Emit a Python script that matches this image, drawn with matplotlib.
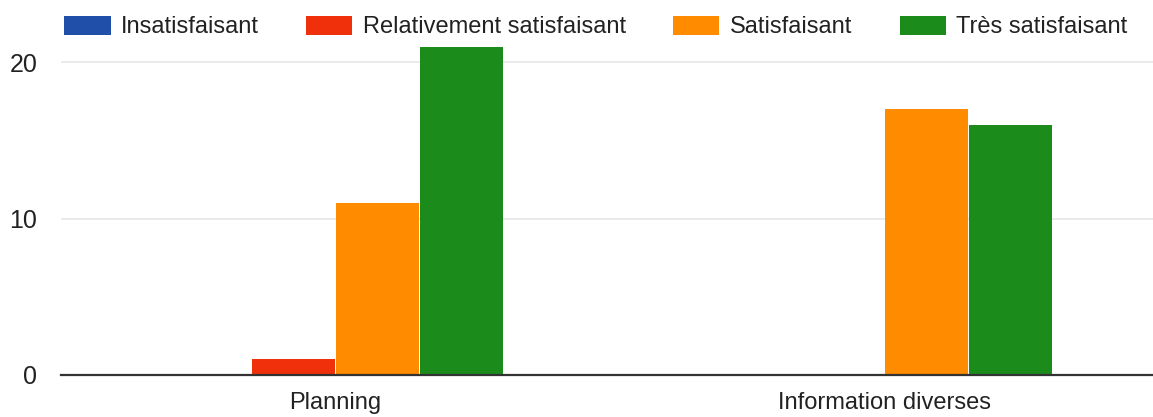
import numpy as np
import matplotlib
matplotlib.use("Agg")
import matplotlib.pyplot as plt

plt.rcParams['font.family'] = ['Liberation Sans', 'DejaVu Sans']

# Data
categories = ["Planning", "Information diverses"]
series_names = ["Insatisfaisant", "Relativement satisfaisant", "Satisfaisant", "Très satisfaisant"]
insatisfaisant = [0, 0]
relativement = [1, 0]
satisfaisant = [11, 17]
tres_satisfaisant = [21, 16]
y_ticks = [0, 10, 20]

series = [insatisfaisant, relativement, satisfaisant, tres_satisfaisant]
colors = ['#1f4fa8', '#f0300a', '#ff8c00', '#1b8c1b']

fig = plt.figure(figsize=(11.53, 4.17), dpi=100)
ax = fig.add_axes([61 / 1153, 42 / 417, 1098 / 1153, 344 / 417])

x = np.arange(len(categories))
step = 0.153
width = 0.150
for i, (vals, name, col) in enumerate(zip(series, series_names, colors)):
    ax.bar(x + (i - 1.5) * step, vals, width, color=col, label=name, zorder=3)

ax.set_xlim(-0.5, 1.5)
ax.set_ylim(0, 22)
ax.set_yticks(y_ticks)
ax.set_yticklabels([str(t) for t in y_ticks])
ax.set_xticks(x)
ax.set_xticklabels(categories)
ax.tick_params(axis='both', length=0, labelsize=17, colors='#222222')
ax.tick_params(axis='y', pad=17, labelsize=18)
ax.tick_params(axis='x', pad=12)

ax.grid(axis='y', color='#e8e8e8', linewidth=1.3, zorder=0)
for s in ['top', 'left', 'right']:
    ax.spines[s].set_visible(False)
ax.spines['bottom'].set_color('#333333')
ax.spines['bottom'].set_linewidth(1.6)
ax.spines['bottom'].set_zorder(4)

fig.legend(loc='center', bbox_to_anchor=(596 / 1153, 1 - 27 / 417), ncol=4,
           frameon=False, fontsize=17, handlelength=1.95, handleheight=0.85,
           handletextpad=0.45, columnspacing=2.0, labelcolor='#222222')

fig.savefig('out.png', dpi=100)
